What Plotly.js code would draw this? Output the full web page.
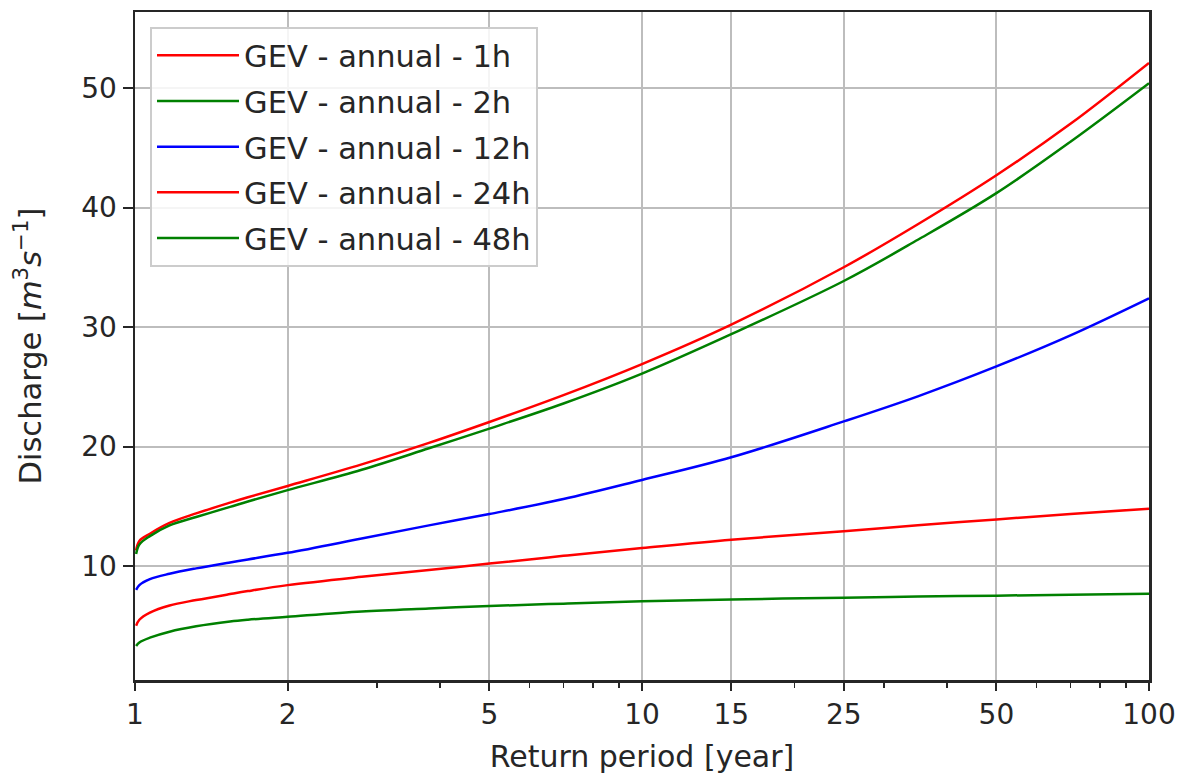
<!DOCTYPE html>
<html>
<head>
<meta charset="utf-8">
<script src="https://cdn.plot.ly/plotly-3.0.1.min.js"></script>
<style>
html,body{margin:0;padding:0;background:#fff;}
#chart{width:1180px;height:776px;}
</style>
</head>
<body>
<div id="chart"></div>
<script>
// Return periods (years)
const returnPeriod = [1.005, 1.02, 1.07, 1.17, 1.32, 1.54, 1.67, 2, 2.8, 3.8, 5, 7, 10, 15, 25, 35, 50, 70, 100];
// Discharge series [m3/s]
const gev1h  = [11.3, 12.1, 12.7, 13.6, 14.4, 15.3, 15.75, 16.7, 18.5, 20.3, 22.05, 24.3, 26.9, 30.2, 35.0, 38.6, 42.7, 47.0, 52.1];
const gev2h  = [11.0, 11.8, 12.5, 13.4, 14.1, 14.95, 15.4, 16.35, 18.05, 19.85, 21.5, 23.6, 26.1, 29.4, 33.85, 37.3, 41.2, 45.5, 50.4];
const gev12h = [8.0, 8.4, 8.9, 9.35, 9.8, 10.3, 10.55, 11.1, 12.3, 13.4, 14.35, 15.6, 17.2, 19.1, 22.1, 24.2, 26.7, 29.3, 32.4];
const gev24h = [5.0, 5.5, 6.1, 6.7, 7.15, 7.65, 7.9, 8.4, 9.1, 9.67, 10.2, 10.85, 11.5, 12.2, 12.9, 13.4, 13.9, 14.35, 14.8];
const gev48h = [3.3, 3.6, 4.0, 4.5, 4.95, 5.35, 5.5, 5.75, 6.2, 6.45, 6.65, 6.85, 7.05, 7.2, 7.35, 7.45, 7.52, 7.6, 7.67];

const seriesNames = ["GEV - annual - 1h", "GEV - annual - 2h", "GEV - annual - 12h", "GEV - annual - 24h", "GEV - annual - 48h"];
const seriesData = [gev1h, gev2h, gev12h, gev24h, gev48h];
const seriesColors = ["#ff0000", "#008000", "#0000ff", "#ff0000", "#008000"];

const xTickVals = [1, 2, 5, 10, 15, 25, 50, 100];
const xTickText = ["1", "2", "5", "10", "15", "25", "50", "100"];
const xMinorVals = [3, 4, 6, 7, 8, 9, 20, 30, 40, 60, 70, 80, 90];
const yTickVals = [10, 20, 30, 40, 50];

const traces = seriesData.map((d, i) => ({
  x: returnPeriod,
  y: d,
  type: "scatter",
  mode: "lines",
  name: seriesNames[i],
  legendgroup: "g" + i,
  line: {color: seriesColors[i], width: 2.5, shape: "spline", smoothing: 1}
}));

const axisColor = "#262626";
const gridColor = "#bdbdbd";
const fontFam = "DejaVu Sans, sans-serif";

const layout = {
  width: 1180,
  height: 776,
  margin: {l: 135, r: 31, t: 12, b: 96},
  paper_bgcolor: "#ffffff",
  plot_bgcolor: "#ffffff",
  font: {family: fontFam, size: 28, color: "#262626"},
  showlegend: true,
  xaxis: {
    type: "log",
    range: [0, 2],
    tickmode: "array",
    tickvals: xTickVals,
    ticktext: xTickText,
    ticks: "outside",
    ticklen: 8,
    tickwidth: 2,
    tickcolor: axisColor,
    showline: true,
    linecolor: axisColor,
    linewidth: 2.5,
    mirror: true,
    showgrid: true,
    gridcolor: gridColor,
    gridwidth: 2,
    zeroline: false,
    tickfont: {family: fontFam, size: 28, color: "#262626"},
    minor: {tickmode: "array", tickvals: xMinorVals, ticks: "outside", ticklen: 5, tickwidth: 1.5, tickcolor: axisColor, showgrid: false},
    title: {text: "Return period [year]", font: {family: fontFam, size: 30, color: "#262626"}, standoff: 16}
  },
  yaxis: {
    range: [0.46, 56.36],
    tickmode: "array",
    tickvals: yTickVals,
    ticks: "outside",
    ticklen: 10,
    tickwidth: 2,
    tickcolor: axisColor,
    showline: true,
    linecolor: axisColor,
    linewidth: 2.5,
    mirror: true,
    showgrid: true,
    gridcolor: gridColor,
    gridwidth: 2,
    zeroline: false,
    tickfont: {family: fontFam, size: 28, color: "#262626"},
    title: {text: "Discharge [<i>m</i><sup>3</sup><i>s</i><sup>−1</sup>]", font: {family: fontFam, size: 30.5, color: "#262626"}, standoff: 31}
  },
  legend: {
    x: 0.0148,
    y: 0.9775,
    xanchor: "left",
    yanchor: "top",
    bgcolor: "rgba(255,255,255,0.85)",
    bordercolor: "#cccccc",
    borderwidth: 2,
    font: {family: fontFam, size: 30.5, color: "#262626"},
    traceorder: "grouped",
    tracegroupgap: 3,
    itemwidth: 82
  }
};

Plotly.newPlot("chart", traces, layout, {displayModeBar: false, staticPlot: true});
</script>
</body>
</html>
